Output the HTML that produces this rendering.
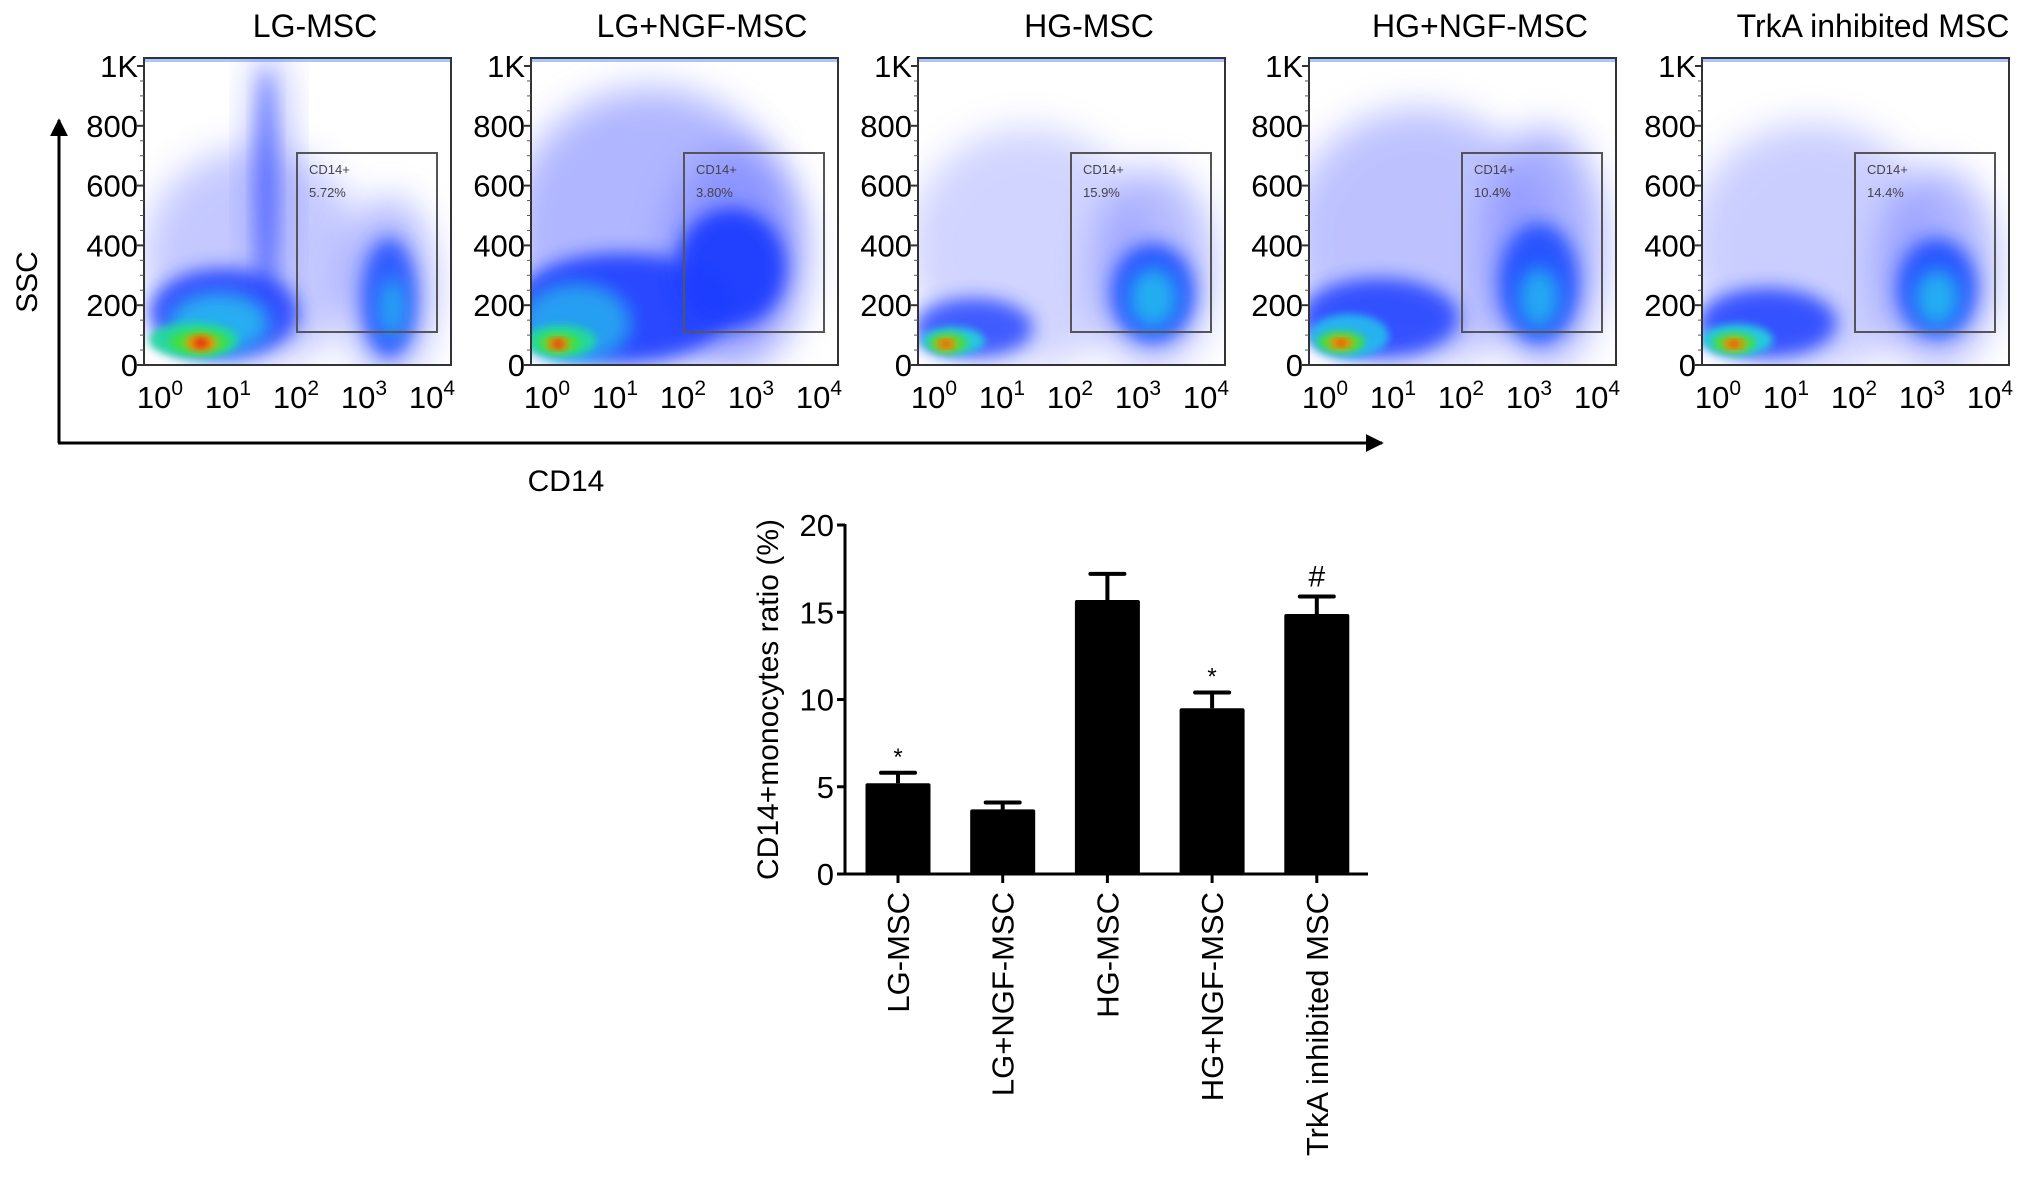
<!DOCTYPE html>
<html><head><meta charset="utf-8">
<style>
html,body{margin:0;padding:0;background:#fff;}
svg{display:block;font-family:"Liberation Sans",Arial,sans-serif;}
</style></head>
<body>
<svg id="root" width="2032" height="1185" viewBox="0 0 2032 1185">
<defs>
<filter id="blur8" x="-50%" y="-50%" width="200%" height="200%"><feGaussianBlur stdDeviation="9"/></filter>
<filter id="blur16" x="-50%" y="-50%" width="200%" height="200%"><feGaussianBlur stdDeviation="18"/></filter>
<filter id="blur4" x="-50%" y="-50%" width="200%" height="200%"><feGaussianBlur stdDeviation="4"/></filter>
<pattern id="dots" width="5" height="5" patternUnits="userSpaceOnUse">
<circle cx="1" cy="1" r="0.9" fill="#3a3aff"/><circle cx="3.5" cy="3.5" r="0.7" fill="#6a6aff"/>
</pattern>
<marker id="arr" viewBox="0 0 10 10" refX="9" refY="5" markerWidth="6" markerHeight="6" orient="auto"><path d="M0,0 L10,5 L0,10 z" fill="#000"/></marker>
</defs>
<g id="flow"></g>
<g id="axesArrows">
<line x1="59" y1="443" x2="59" y2="120" stroke="#000" stroke-width="3" marker-end="url(#arr)"/>
<line x1="58" y1="443" x2="1382" y2="443" stroke="#000" stroke-width="3" marker-end="url(#arr)"/>
<text transform="translate(37,282) rotate(-90)" text-anchor="middle" font-size="30">SSC</text>
<text x="566" y="491" text-anchor="middle" font-size="30">CD14</text>
</g>
<g id="bar"></g>
</svg>
<script>
// ---- bar chart data ----
const categories = ["LG-MSC","LG+NGF-MSC","HG-MSC","HG+NGF-MSC","TrkA inhibited MSC"];
const values = [5.2, 3.7, 15.7, 9.5, 14.9];
const errors = [0.6, 0.4, 1.5, 0.9, 1.0];
const marks = ["*", "", "", "*", "#"];
const yTicks = [0, 5, 10, 15, 20];

// ---- flow panel data ----
const panelTitles = ["LG-MSC","LG+NGF-MSC","HG-MSC","HG+NGF-MSC","TrkA inhibited MSC"];
const gatePercents = ["5.72%","3.80%","15.9%","10.4%","14.4%"];
const sscTicks = [0,200,400,600,800,1000];
const sscTickLabels = ["0","200","400","600","800","1K"];
const cd14Exps = [0,1,2,3,4];

const NS="http://www.w3.org/2000/svg";
function mk(tag, attrs, parent){const e=document.createElementNS(NS,tag);for(const k in attrs)e.setAttribute(k,attrs[k]);if(parent)parent.appendChild(e);return e;}

// ---------- flow panels ----------
const flow=document.getElementById('flow');
const boxLeft=[144,531,918,1309,1702], boxTop=58, boxW=307, boxH=307;
const H='#7d86ff';
const blobs=[
 [[110,200,110,110,H,0.45,'blur16'],[125,120,20,130,H,0.6,'blur16'],[245,230,45,90,H,0.6,'blur16'],
  [80,255,75,45,'#1d3cff',0.85,'blur8'],[122,130,10,120,'#2040ff',0.55,'blur8'],[245,240,28,60,'#1f4dff',0.85,'blur8'],[248,250,13,30,'#22b8f0',0.8,'blur8'],
  [75,265,50,30,'#25b8f0',0.9,'blur8'],[50,282,45,18,'#22d8a0',0.95,'blur4'],[55,284,30,12,'#40e040',1,'blur4'],[57,285,16,8,'#ff9a00',1,'blur4'],[57,285,8,5,'#e02010',1,'blur4']],
 [[120,170,140,140,H,0.6,'blur16'],[205,200,70,110,H,0.7,'blur16'],
  [90,250,110,55,'#1d3cff',0.9,'blur8'],[200,210,55,60,'#1f3cff',0.95,'blur8'],[45,265,55,40,'#25a8f0',0.9,'blur8'],
  [30,283,35,16,'#22d8a0',1,'blur4'],[28,285,22,10,'#40e040',1,'blur4'],[27,286,12,6,'#ff9a00',1,'blur4'],[27,286,6,4,'#e02010',1,'blur4']],
 [[110,190,120,120,H,0.35,'blur16'],[235,210,60,100,H,0.55,'blur16'],
  [55,270,60,30,'#1d3cff',0.8,'blur8'],[235,235,42,50,'#1f4dff',0.9,'blur8'],[235,240,24,30,'#22b8f0',0.9,'blur8'],
  [35,283,32,14,'#25c8e0',1,'blur4'],[30,285,20,10,'#40e040',1,'blur4'],[28,286,11,6,'#ff9a00',1,'blur4'],[28,286,5,3,'#e02010',0.8,'blur4']],
 [[110,180,130,130,H,0.5,'blur16'],[235,190,60,120,H,0.65,'blur16'],
  [70,260,80,40,'#1d3cff',0.85,'blur8'],[230,225,40,60,'#1f4dff',0.9,'blur8'],[230,240,20,30,'#22b8f0',0.85,'blur8'],
  [40,278,40,22,'#25b8f0',0.95,'blur4'],[32,284,24,11,'#40e040',1,'blur4'],[32,285,13,6,'#ff9a00',1,'blur4'],[32,285,6,3,'#e02010',0.8,'blur4']],
 [[110,190,125,125,H,0.4,'blur16'],[235,210,60,100,H,0.6,'blur16'],
  [65,265,70,35,'#1d3cff',0.85,'blur8'],[235,230,40,50,'#1f4dff',0.9,'blur8'],[235,240,22,28,'#22b8f0',0.9,'blur8'],
  [35,282,36,16,'#25c8e0',1,'blur4'],[32,285,22,10,'#40e040',1,'blur4'],[32,286,12,6,'#ff9a00',1,'blur4'],[32,286,6,3,'#e02010',0.8,'blur4']]
];
function sscY(v){return boxTop+307-v*0.299;}
for(let p=0;p<5;p++){
  const x0=boxLeft[p];
  const g=mk('g',{},flow);
  
  
  const t=mk('text',{x:x0+171,y:37,'text-anchor':'middle','font-size':32},g);
  t.textContent=panelTitles[p];
  
  
  const clipId='clip'+p;
  const cp=mk('clipPath',{id:clipId},g);mk('rect',{x:x0,y:boxTop,width:boxW,height:boxH},cp);
  const dens=mk('g',{'clip-path':'url(#'+clipId+')'},g);
  
  
  mk('rect',{x:x0,y:boxTop,width:boxW,height:4,fill:'#6fa0ff',opacity:0.6},dens);
  for(const b of blobs[p]){
    const a={cx:x0+b[0],cy:boxTop+b[1],rx:b[2],ry:b[3],fill:b[4],opacity:b[5]};
    if(b[6])a.filter='url(#'+b[6]+')';
    mk('ellipse',a,dens);
  }
  const box=mk('rect',{x:x0,y:boxTop,width:boxW,height:boxH,fill:'none',stroke:'#333',"stroke-width":2},g);
  
  
  for(let i=0;i<sscTicks.length;i++){
    const y=sscY(sscTicks[i]);
    mk('line',{x1:x0-7,y1:y,x2:x0,y2:y,stroke:'#333','stroke-width':2},g);
    const tl=mk('text',{x:x0-6,y:y+11,'text-anchor':'end','font-size':31},g);
    tl.textContent=sscTickLabels[i];
    
    
  }
  for(let v=50;v<1000;v+=50){if(v%200){const y=sscY(v);mk('line',{x1:x0-4,y1:y,x2:x0,y2:y,stroke:'#555','stroke-width':1},g);}}
  for(let i=0;i<cd14Exps.length;i++){
    const cx=x0+16+i*68;
    const tl=mk('text',{x:cx,y:408,'text-anchor':'middle','font-size':31},g);
    
    
    tl.appendChild(document.createTextNode('10'));
    const sp=mk('tspan',{dy:-13,'font-size':21},tl);sp.textContent=String(cd14Exps[i]);
  }
  const gx=x0+153, gy=153;
  const gate=mk('rect',{x:gx,y:gy,width:140,height:179,fill:'none',stroke:'#555','stroke-width':2},g);
  
  
  const g1=mk('text',{x:gx+12,y:gy+21,'font-size':13,fill:'#444'},g);g1.textContent='CD14+';
  
  
  const g2=mk('text',{x:gx+12,y:gy+44,'font-size':13,fill:'#444'},g);g2.textContent=gatePercents[p];
  
  
}

// ---------- bar chart ----------
const bar=document.getElementById('bar');
const axX=845, y0=874, pxPerUnit=17.45, bw=65;
const yS=v=>y0-v*pxPerUnit;
const xC=i=>898+i*104.7;
mk('line',{x1:axX,y1:yS(20)-1,x2:axX,y2:y0,stroke:'#000','stroke-width':3},bar);
mk('line',{x1:axX,y1:y0,x2:1368,y2:y0,stroke:'#000','stroke-width':3},bar);
for(const t of yTicks){
  mk('line',{x1:axX-8,y1:yS(t),x2:axX,y2:yS(t),stroke:'#000','stroke-width':3},bar);
  const tl=mk('text',{x:axX-11,y:yS(t)+11,'text-anchor':'end','font-size':31},bar);
  tl.textContent=String(t);
  
  
}
const yt=mk('text',{transform:'translate(778,'+yS(10)+') rotate(-90)','text-anchor':'middle','font-size':30},bar);
yt.textContent='CD14+monocytes ratio (%)';


for(let i=0;i<categories.length;i++){
  const cx=xC(i);
  const r=mk('rect',{x:cx-bw/2,y:yS(values[i]),width:bw,height:y0-yS(values[i]),fill:'#000',rx:2},bar);
  
  
  const top=yS(values[i]+errors[i]);
  mk('line',{x1:cx,y1:yS(values[i]),x2:cx,y2:top,stroke:'#000','stroke-width':4},bar);
  const cap=mk('line',{x1:cx-17,y1:top,x2:cx+17,y2:top,stroke:'#000','stroke-width':4,'stroke-linecap':'round'},bar);
  
  
  mk('line',{x1:cx,y1:y0,x2:cx,y2:y0+9,stroke:'#000','stroke-width':3},bar);
  if(marks[i]){
    const m=mk('text',{x:cx,y:top-(marks[i]=='#'?10:8),'text-anchor':'middle','font-size':marks[i]=='#'?30:24},bar);
    m.textContent=marks[i];
    
    
  }
  const cl=mk('text',{transform:'translate('+(cx+11)+','+(y0+18)+') rotate(-90)','text-anchor':'end','font-size':31},bar);
  cl.textContent=categories[i];
  
  
}
</script>
</body></html>
